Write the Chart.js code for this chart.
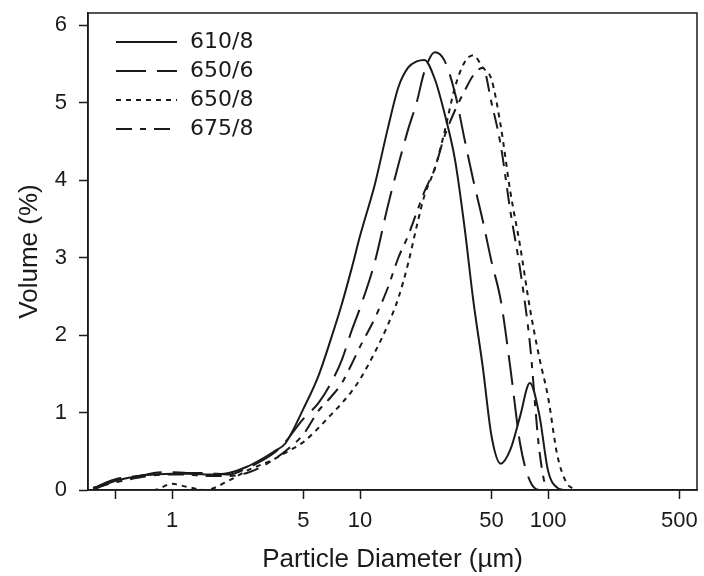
<!DOCTYPE html>
<html>
<head>
<meta charset="utf-8">
<script src="https://cdn.jsdelivr.net/npm/chart.js@4"></script>
<style>
  body { margin: 0; background: #fff; }
  #wrap { width: 704px; height: 576px; }
</style>
</head>
<body>
<div id="wrap"><canvas id="psd" width="704" height="576"></canvas></div>
<script>
// particle diameters (µm), shared by all four runs
const diameters = [0.38, 0.45, 0.5, 0.6, 0.7, 0.8, 1, 1.2, 1.5, 2, 2.5, 3, 3.5, 4, 5, 6, 7, 8, 9, 10,
  12, 14, 16, 18, 20, 22, 25, 28, 32, 36, 40, 45, 50, 56, 63, 71, 80, 90, 100, 112, 125, 140];

// volume (%) per diameter
const vol610_8 = [0, 0.08, 0.12, 0.16, 0.19, 0.2, 0.21, 0.21, 0.2, 0.22, 0.3, 0.4, 0.5, 0.6, 1.05, 1.47, 1.95, 2.4, 2.85, 3.28,
  3.95, 4.65, 5.2, 5.45, 5.53, 5.55, 5.3, 4.88, 4.26, 3.38, 2.45, 1.58, 0.7, 0.34, 0.52, 0.95, 1.38, 0.96, 0.25, 0.03, 0, 0];
const vol650_6 = [0.02, 0.1, 0.14, 0.17, 0.19, 0.22, 0.23, 0.22, 0.22, 0.2, 0.28, 0.38, 0.48, 0.62, 0.92, 1.12, 1.38, 1.68, 2.05, 2.35,
  2.95, 3.65, 4.2, 4.65, 5.0, 5.4, 5.65, 5.55, 5.12, 4.52, 4.0, 3.47, 2.95, 2.45, 1.58, 0.6, 0.12, 0, 0, 0, 0, 0];
const vol650_8 = [0, 0, 0, 0, 0, 0, 0.08, 0.04, 0, 0.12, 0.25, 0.33, 0.4, 0.48, 0.62, 0.8, 0.97, 1.12, 1.27, 1.43,
  1.78, 2.12, 2.48, 2.92, 3.4, 3.8, 4.15, 4.6, 5.2, 5.52, 5.61, 5.45, 5.3, 4.7, 3.85, 3.15, 2.35, 1.7, 1.2, 0.45, 0.1, 0];
const vol675_8 = [0.03, 0.07, 0.1, 0.14, 0.17, 0.19, 0.2, 0.2, 0.18, 0.18, 0.22, 0.3, 0.4, 0.5, 0.72, 1.02, 1.2, 1.38, 1.62, 1.85,
  2.22, 2.6, 3.0, 3.28, 3.58, 3.85, 4.15, 4.55, 4.9, 5.15, 5.35, 5.45, 5.0, 4.45, 3.6, 2.85, 1.9, 0.5, 0, 0, 0, 0];

const seriesLabels = ['610/8', '650/6', '650/8', '675/8'];
const xTicks = [0.5, 1, 5, 10, 50, 100, 500];
const xTickLabels = ['', '1', '5', '10', '50', '100', '500'];
const yTicks = [0, 1, 2, 3, 4, 5, 6];

const ink = '#1a1a1a';
const dashes = [[], [30, 11], [5, 5], [16, 8, 6, 8]];
const allVols = [vol610_8, vol650_6, vol650_8, vol675_8];

const datasets = allVols.map((vals, i) => ({
  label: seriesLabels[i],
  data: diameters.map((d, j) => ({ x: d, y: vals[j] })),
  borderColor: ink,
  borderWidth: 2,
  borderDash: dashes[i],
  pointRadius: 0,
  fill: false,
  cubicInterpolationMode: 'monotone'
}));

// box around the plot area
const framePlugin = {
  id: 'frame',
  afterDraw(chart) {
    const a = chart.chartArea, ctx = chart.ctx;
    ctx.save();
    ctx.strokeStyle = ink;
    ctx.lineWidth = 1.5;
    ctx.strokeRect(a.left, a.top, a.right - a.left, a.bottom - a.top);
    ctx.restore();
  }
};

// legend sits inside the top-left corner of the plot
const innerLegend = {
  id: 'innerLegend',
  afterDraw(chart) {
    const a = chart.chartArea, ctx = chart.ctx;
    chart.data.datasets.forEach((ds, i) => {
      const y = a.top + 29 + i * 29;
      ctx.save();
      ctx.strokeStyle = ds.borderColor;
      ctx.lineWidth = ds.borderWidth;
      ctx.setLineDash(ds.borderDash);
      ctx.beginPath();
      ctx.moveTo(a.left + 28, y);
      ctx.lineTo(a.left + 89, y);
      ctx.stroke();
      ctx.setLineDash([]);
      ctx.fillStyle = ink;
      ctx.font = '22px "DejaVu Sans"';
      ctx.textBaseline = 'middle';
      ctx.fillText(ds.label, a.left + 102, y);
      ctx.restore();
    });
  }
};

new Chart(document.getElementById('psd'), {
  type: 'line',
  data: { datasets: datasets },
  options: {
    responsive: false,
    animation: false,
    layout: { padding: { top: 13, right: 7, left: 0, bottom: 0 } },
    plugins: { legend: { display: false }, tooltip: { enabled: false } },
    scales: {
      x: {
        type: 'logarithmic',
        min: 0.357,
        max: 620,
        afterBuildTicks: s => { s.ticks = xTicks.map(v => ({ value: v })); },
        afterFit: s => { s.height = 86; s.paddingLeft = 0; s.paddingRight = 0; },
        ticks: {
          autoSkip: false,
          maxRotation: 0,
          padding: 9,
          color: ink,
          font: { family: '"Liberation Sans", Arial', size: 22 },
          callback: (v, i) => xTickLabels[i]
        },
        grid: { drawOnChartArea: false, tickLength: 9, tickWidth: 1.5, color: ink },
        border: { color: ink, width: 1.5 },
        title: {
          display: true,
          text: 'Particle Diameter (µm)',
          color: ink,
          font: { family: '"Liberation Sans", Arial', size: 26 },
          padding: { top: 1, bottom: 1 }
        }
      },
      y: {
        min: 0,
        max: 6.155,
        afterBuildTicks: s => { s.ticks = yTicks.map(v => ({ value: v })); },
        afterFit: s => { s.width = 88; s.paddingTop = 0; s.paddingBottom = 0; },
        ticks: {
          padding: 12,
          color: ink,
          font: { family: '"Liberation Sans", Arial', size: 22 }
        },
        grid: { drawOnChartArea: false, tickLength: 9, tickWidth: 1.5, color: ink },
        border: { color: ink, width: 1.5 },
        title: {
          display: true,
          text: 'Volume (%)',
          color: ink,
          font: { family: '"Liberation Sans", Arial', size: 26 },
          padding: { top: 14, bottom: 14 }
        }
      }
    }
  },
  plugins: [framePlugin, innerLegend]
});
</script>
</body>
</html>
